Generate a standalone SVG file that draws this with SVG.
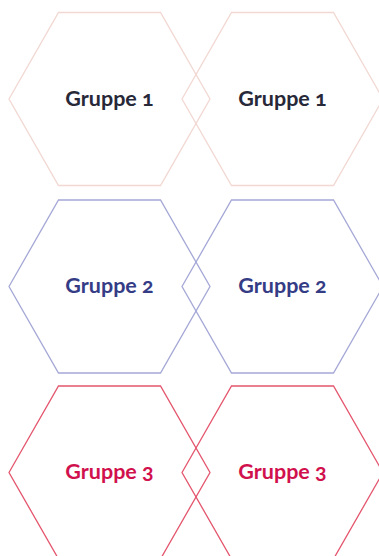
<svg xmlns="http://www.w3.org/2000/svg" width="379" height="556" viewBox="0 0 379 556">
<style>
.hex{fill:none;stroke-width:1.3}
.t{font-family:"Lato","Open Sans",sans-serif;font-weight:bold;font-size:21.5px;text-anchor:middle;font-variant-numeric:oldstyle-nums}
.g1 .hex{stroke:#f2d8d2}.g1 text{fill:#272838}
.g2 .hex{stroke:#a5a8d6}.g2 text{fill:#353c86}
.g3 .hex{stroke:#e4566e}.g3 text{fill:#d1114d}
</style>
<defs>
<polygon id="h" points="-100.5,0 -51,-86.5 51,-86.5 100.5,0 51,86.5 -51,86.5"/>
</defs>
<rect width="379" height="556" fill="#ffffff"/>
<g id="n1a" class="g1" transform="translate(109.5,99)"><use href="#h" class="hex"/><text class="t" y="6.5">Gruppe 1</text></g>
<g id="n1b" class="g1" transform="translate(282.5,99)"><use href="#h" class="hex"/><text class="t" y="6.5">Gruppe 1</text></g>
<g id="n2a" class="g2" transform="translate(109.5,286.5)"><use href="#h" class="hex"/><text class="t" y="6.5">Gruppe 2</text></g>
<g id="n2b" class="g2" transform="translate(282.5,286.5)"><use href="#h" class="hex"/><text class="t" y="6.5">Gruppe 2</text></g>
<g id="n3a" class="g3" transform="translate(109.5,472.5)"><use href="#h" class="hex"/><text class="t" y="6.5">Gruppe 3</text></g>
<g id="n3b" class="g3" transform="translate(282.5,472.5)"><use href="#h" class="hex"/><text class="t" y="6.5">Gruppe 3</text></g>
<g id="connectors"/>
</svg>
